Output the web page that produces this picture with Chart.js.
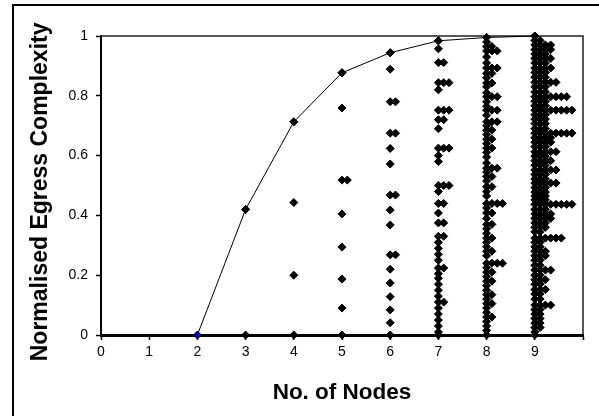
<!DOCTYPE html>
<html>
<head>
<meta charset="utf-8">
<script src="https://cdn.jsdelivr.net/npm/chart.js@4.4.1/dist/chart.umd.min.js"></script>
<style>
  html, body { margin: 0; padding: 0; background: #fff; }
</style>
</head>
<body>
<canvas id="graficoComplexidade" width="599" height="416"></canvas>
<script>
// Número de nós e valor máximo (curva) para cada um
const nos = [2, 3, 4, 5, 6, 7, 8, 9];
const complexidadeMaxima = [0, 0.42, 0.713, 0.877, 0.944, 0.984, 0.995, 1];

// Valores observados por número de nós: [valor, repetições]
const nos3 = [[0.42, 1], [0, 1]];
const nos4 = [[0.713, 1], [0.443, 1], [0.2, 1], [0, 1]];
const nos5 = [[0.877, 1], [0.759, 1], [0.518, 2], [0.405, 1], [0.294, 1], [0.187, 1], [0.09, 1], [0, 1]];
const nos6 = [[0.944, 1], [0.889, 1], [0.78, 2], [0.675, 2], [0.624, 1], [0.572, 1], [0.468, 2], [0.418, 1],
  [0.368, 1], [0.268, 2], [0.22, 1], [0.174, 1], [0.128, 1], [0.084, 1], [0.041, 1], [0, 1]];
const nos7 = [[0.984, 1], [0.957, 1], [0.911, 2], [0.844, 3], [0.82, 1], [0.752, 3], [0.72, 2], [0.69, 1],
  [0.625, 3], [0.6, 1], [0.58, 1], [0.5, 3], [0.48, 1], [0.44, 2], [0.408, 1], [0.375, 2], [0.33, 2],
  [0.31, 1], [0.29, 1], [0.27, 1], [0.25, 1], [0.224, 2], [0.205, 1], [0.19, 1], [0.17, 1], [0.15, 1],
  [0.13, 1], [0.11, 2], [0.09, 1], [0.07, 1], [0.05, 1], [0.03, 1], [0.01, 1], [0, 1]];
const nos8 = [[0.995, 1], [0.98, 1], [0.965, 2], [0.95, 3], [0.93, 1], [0.91, 1], [0.893, 3], [0.875, 2],
  [0.86, 1], [0.843, 2], [0.83, 1], [0.81, 1], [0.797, 3], [0.78, 1], [0.765, 1], [0.752, 3], [0.735, 1],
  [0.713, 3], [0.7, 1], [0.685, 2], [0.67, 1], [0.655, 2], [0.64, 1], [0.625, 2], [0.61, 1], [0.595, 1],
  [0.575, 1], [0.558, 3], [0.545, 1], [0.53, 2], [0.515, 1], [0.496, 2], [0.48, 1], [0.465, 1], [0.44, 4],
  [0.425, 1], [0.408, 2], [0.39, 1], [0.37, 2], [0.355, 1], [0.34, 1], [0.324, 2], [0.31, 1], [0.295, 1],
  [0.28, 2], [0.265, 1], [0.24, 4], [0.225, 1], [0.21, 2], [0.195, 1], [0.18, 2], [0.165, 1], [0.15, 1],
  [0.135, 2], [0.12, 1], [0.105, 2], [0.09, 1], [0.075, 1], [0.06, 2], [0.045, 1], [0.03, 1], [0.015, 1], [0, 1]];
const nos9 = [[1, 1], [0.985, 2], [0.97, 4], [0.955, 4], [0.94, 3], [0.925, 4], [0.91, 3], [0.893, 4],
  [0.878, 3], [0.862, 3], [0.845, 5], [0.83, 3], [0.813, 3], [0.797, 7], [0.782, 3], [0.767, 3], [0.752, 8],
  [0.737, 3], [0.722, 3], [0.707, 3], [0.69, 3], [0.675, 8], [0.66, 4], [0.645, 4], [0.63, 3], [0.613, 5],
  [0.598, 3], [0.583, 4], [0.568, 3], [0.552, 5], [0.537, 3], [0.522, 3], [0.508, 5], [0.493, 3], [0.478, 3],
  [0.465, 3], [0.452, 3], [0.437, 8], [0.42, 3], [0.405, 4], [0.39, 4], [0.375, 3], [0.36, 3], [0.345, 2],
  [0.324, 6], [0.31, 2], [0.295, 2], [0.28, 3], [0.265, 3], [0.25, 2], [0.233, 2], [0.217, 4], [0.2, 2],
  [0.185, 3], [0.17, 2], [0.152, 3], [0.137, 2], [0.12, 2], [0.1, 4], [0.085, 2], [0.07, 2], [0.055, 2],
  [0.04, 2], [0.025, 2], [0.01, 1], [0, 1]];

const colunas = [[3, nos3], [4, nos4], [5, nos5], [6, nos6], [7, nos7], [8, nos8], [9, nos9]];
const ticksY = [0, 0.2, 0.4, 0.6, 0.8, 1];
const rotulosY = ['0', '0.2', '0.4', '0.6', '0.8', '1'];

// valores repetidos ficam lado a lado, deslocados para a direita
const DESLOCAMENTO = 0.11;
const FONTE = "'Liberation Sans', Arial, sans-serif";

const pontos = [];
colunas.forEach(([n, valores]) => {
  valores.forEach(([valor, vezes]) => {
    for (let k = 0; k < vezes; k++) pontos.push({ x: n + k * DESLOCAMENTO, y: valor });
  });
});
const curva = nos.map((n, i) => ({ x: n, y: complexidadeMaxima[i] }));

// Molduras: caixa do gráfico e borda externa
const molduras = {
  id: 'molduras',
  beforeDraw(chart) {
    const ctx = chart.ctx;
    ctx.save();
    ctx.fillStyle = '#fff';
    ctx.fillRect(0, 0, chart.width, chart.height);
    ctx.restore();
  },
  beforeDatasetsDraw(chart) {
    const { ctx, chartArea: a } = chart;
    ctx.save();
    ctx.strokeStyle = '#222';
    ctx.lineWidth = 1.5;
    ctx.beginPath();
    ctx.moveTo(a.left, a.top);
    ctx.lineTo(a.right, a.top);
    ctx.lineTo(a.right, a.bottom);
    ctx.stroke();
    ctx.restore();
  },
  afterDraw(chart) {
    const ctx = chart.ctx;
    ctx.save();
    ctx.strokeStyle = '#000';
    ctx.lineWidth = 2;
    ctx.beginPath();
    ctx.moveTo(13, chart.height);
    ctx.lineTo(13, 5);
    ctx.lineTo(chart.width, 5);
    ctx.stroke();
    ctx.restore();
  }
};

new Chart(document.getElementById('graficoComplexidade'), {
  type: 'scatter',
  data: {
    datasets: [
      {
        label: 'observado',
        data: pontos,
        order: 1,
        pointStyle: 'rectRot',
        pointRadius: 4,
        pointBackgroundColor: '#000',
        pointBorderColor: '#000',
        pointBorderWidth: 1,
        showLine: false,
        clip: false
      },
      {
        label: 'máximo',
        data: curva,
        order: 2,
        showLine: true,
        borderColor: '#000',
        borderWidth: 1,
        tension: 0,
        pointStyle: 'rectRot',
        pointRadius: 4,
        pointBackgroundColor: '#000080',
        pointBorderColor: '#000080',
        clip: false
      }
    ]
  },
  options: {
    responsive: false,
    animation: false,
    layout: { padding: { left: 13, top: 36, right: 16, bottom: 0 } },
    plugins: { legend: { display: false }, tooltip: { enabled: false } },
    scales: {
      x: {
        type: 'linear',
        min: 0,
        max: 10,
        ticks: {
          stepSize: 1,
          autoSkip: false,
          maxRotation: 0,
          color: '#000',
          padding: 4,
          font: { family: FONTE, size: 14 },
          callback: v => (v === 10 ? '' : v)
        },
        grid: { drawOnChartArea: false, drawTicks: true, tickLength: 5, tickColor: '#000', tickWidth: 1.5 },
        border: { display: true, color: '#000', width: 3 },
        title: {
          display: true,
          text: 'No. of Nodes',
          color: '#000',
          font: { family: FONTE, size: 22.5, weight: 'bold' },
          padding: { top: 0, bottom: 10 }
        },
        afterFit: s => { s.height = 81; }
      },
      y: {
        min: 0,
        max: 1,
        afterBuildTicks: s => { s.ticks = ticksY.map(v => ({ value: v })); },
        ticks: {
          color: '#000',
          padding: 8,
          font: { family: FONTE, size: 14 },
          callback: (v, i) => rotulosY[i]
        },
        grid: { drawOnChartArea: false, drawTicks: true, tickLength: 5, tickColor: '#000', tickWidth: 1.5 },
        border: { display: true, color: '#000', width: 2 },
        title: {
          display: true,
          // espaços no fim descem um pouco o título, como no original
          text: 'Normalised Egress Complexity  ',
          color: '#000',
          font: { family: FONTE, size: 23, weight: 'bold' },
          padding: { top: 14, bottom: 0 }
        },
        afterFit: s => { s.width = 88; }
      }
    }
  },
  plugins: [molduras]
});
</script>
</body>
</html>
